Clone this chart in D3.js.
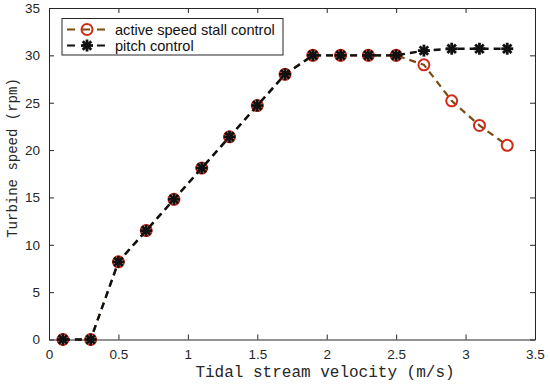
<!DOCTYPE html>
<html>
<head>
<meta charset="utf-8">
<script src="https://cdn.jsdelivr.net/npm/d3@7"></script>
<style>
  body { margin: 0; background: #fff; }
  .tick text { font-family: "Liberation Sans", Arial, sans-serif; font-size: 13.5px; fill: #262626; }
</style>
</head>
<body>
<svg class="chart" width="550" height="387"></svg>
<script>
// tidal stream velocity (m/s)
var velocity = [0.1, 0.3, 0.5, 0.7, 0.9, 1.1, 1.3, 1.5, 1.7, 1.9, 2.1, 2.3, 2.5, 2.7, 2.9, 3.1, 3.3];
// turbine speed (rpm)
var stallSpeed = [0, 0, 8.2, 11.5, 14.8, 18.1, 21.4, 24.7, 28, 30, 30, 30, 30, 29, 25.2, 22.6, 20.5];
var pitchSpeed = [0, 0, 8.2, 11.5, 14.8, 18.1, 21.4, 24.7, 28, 30, 30, 30, 30, 30.5, 30.7, 30.7, 30.7];
var xTicks = [0, 0.5, 1, 1.5, 2, 2.5, 3, 3.5];
var yTicks = [0, 5, 10, 15, 20, 25, 30, 35];
var seriesNames = ["active speed stall control", "pitch control"];

var svg = d3.select(".chart"),
    plotL = 49, plotR = 535, plotT = 8, plotB = 339.5;

var x = d3.scaleLinear().domain([0, 3.5]).range([plotL, plotR]);
var y = d3.scaleLinear().domain([0, 35]).range([plotB, plotT]);

var axisColor = "#262626";

// axes with inward ticks
svg.append("g")
    .attr("transform", "translate(0," + plotB + ")")
    .call(d3.axisBottom(x).tickValues(xTicks).tickSizeInner(-5).tickSizeOuter(0).tickPadding(10).tickFormat(d3.format("")));
svg.append("g")
    .attr("transform", "translate(0," + plotT + ")")
    .call(d3.axisTop(x).tickValues(xTicks).tickSizeInner(-5).tickSizeOuter(0).tickFormat(""));
svg.append("g")
    .attr("transform", "translate(" + plotL + ",0)")
    .call(d3.axisLeft(y).tickValues(yTicks).tickSizeInner(-5).tickSizeOuter(0).tickPadding(9));
svg.append("g")
    .attr("transform", "translate(" + plotR + ",0)")
    .call(d3.axisRight(y).tickValues(yTicks).tickSizeInner(-5).tickSizeOuter(0).tickFormat(""));
svg.selectAll(".domain, .tick line").attr("stroke", axisColor);

// axis labels
svg.append("text")
    .attr("x", 325)
    .attr("y", 377)
    .attr("text-anchor", "middle")
    .style("font-family", "'Liberation Mono', 'DejaVu Sans Mono', monospace")
    .style("font-size", "16px")
    .attr("fill", axisColor)
    .text("Tidal stream velocity (m/s)");
svg.append("text")
    .attr("transform", "translate(17,158) rotate(-90)")
    .attr("text-anchor", "middle")
    .style("font-family", "'Liberation Mono', 'DejaVu Sans Mono', monospace")
    .style("font-size", "14px")
    .attr("fill", axisColor)
    .text("Turbine speed (rpm)");

var line = d3.line()
    .x(function(d) { return x(d[0]); })
    .y(function(d) { return y(d[1]); });

var stallPts = velocity.map(function(v, i) { return [v, stallSpeed[i]]; });
var pitchPts = velocity.map(function(v, i) { return [v, pitchSpeed[i]]; });

var lineBrown = "#7a4a12", circleRed = "#d42a1a";

function circleMark(g, cx, cy) {
    g.append("circle").attr("cx", cx).attr("cy", cy).attr("r", 5.5)
        .attr("fill", "none").attr("stroke", circleRed).attr("stroke-width", 2);
}
function starMark(g, cx, cy) {
    var r = 6;
    [0, 45, 90, 135].forEach(function(a) {
        var rad = a * Math.PI / 180;
        g.append("line")
            .attr("x1", cx - r * Math.cos(rad)).attr("y1", cy - r * Math.sin(rad))
            .attr("x2", cx + r * Math.cos(rad)).attr("y2", cy + r * Math.sin(rad))
            .attr("stroke", "#111").attr("stroke-width", 2.8);
    });
}

// stall series
svg.append("path").datum(stallPts).attr("d", line)
    .attr("fill", "none").attr("stroke", lineBrown).attr("stroke-width", 2.2)
    .attr("stroke-dasharray", "7,5");
var gStall = svg.append("g");
stallPts.forEach(function(d) { circleMark(gStall, x(d[0]), y(d[1])); });

// pitch series
svg.append("path").datum(pitchPts).attr("d", line)
    .attr("fill", "none").attr("stroke", "#111").attr("stroke-width", 2.4)
    .attr("stroke-dasharray", "7,5");
var gPitch = svg.append("g");
pitchPts.forEach(function(d) { starMark(gPitch, x(d[0]), y(d[1])); });

// legend
var lg = svg.append("g");
lg.append("rect").attr("x", 62).attr("y", 18.5).attr("width", 221).attr("height", 36.5)
    .attr("fill", "#fff").attr("stroke", axisColor).attr("stroke-width", 1);
[0, 1].forEach(function(i) {
    var ly = 29.5 + i * 16;
    lg.append("line").attr("x1", 66).attr("x2", 110).attr("y1", ly).attr("y2", ly)
        .attr("stroke", i === 0 ? lineBrown : "#111").attr("stroke-width", 2.2)
        .attr("stroke-dasharray", "8,7").attr("stroke-dashoffset", -1);
    if (i === 0) circleMark(lg, 87, ly); else starMark(lg, 87, ly);
    lg.append("text").attr("x", 115).attr("y", ly + 5)
        .style("font-family", "'Liberation Sans', Arial, sans-serif")
        .style("font-size", "14.6px")
        .attr("fill", "#111")
        .text(seriesNames[i]);
});
</script>
</body>
</html>
